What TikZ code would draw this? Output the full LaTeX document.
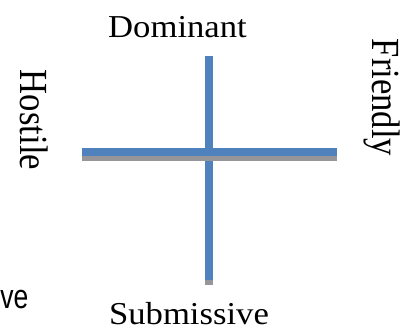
\documentclass[tikz,border=0pt]{standalone}
\usepackage{fontspec}
\setmainfont{Liberation Serif}
\setsansfont{Liberation Sans}
\usetikzlibrary{positioning}
\definecolor{axisblue}{RGB}{79,129,189}
\definecolor{axisgray}{RGB}{150,150,154}

\begin{document}
\begin{tikzpicture}[
x=0.75pt, y=-0.75pt,
axis/.style={line width=6pt, color=axisblue},
axisshadow/.style={line width=6pt, color=axisgray},
pole/.style={font=\fontsize{26}{30}\selectfont, inner sep=0pt, anchor=base}
]
\useasboundingbox (0,0) rectangle (406,329);

% ends of the two axes
\coordinate (top) at (209,56);
\coordinate (bottom) at (209,280);
\coordinate (left) at (82,152);
\coordinate (right) at (337,152);

\draw[axisshadow] ([yshift=-3.75pt]top) -- ([yshift=-3.75pt]bottom);
\draw[axis] (top) -- (bottom);
\draw[axisshadow] ([yshift=-3.75pt]left) -- ([yshift=-3.75pt]right);
\draw[axis] (left) -- (right);

\node[pole] (dominant) at (177.5,37.5) {\scalebox{1}[0.92]{Dominant}};
\node[pole] (submissive) at (189,324) {\scalebox{1}[0.92]{Submissive}};
\node[pole, rotate=-90] (hostile) at (21,120) {\scalebox{1}[1.15]{Hostile}};
\node[pole, rotate=-90] (friendly) at (372,97.5) {\scalebox{1}[1.15]{Friendly}};

\node[font=\fontsize{25.5}{30}\selectfont\sffamily, inner sep=0pt, anchor=base west] (cut) at (0,308) {\scalebox{0.78}[1]{ve}};

\end{tikzpicture}
\end{document}
